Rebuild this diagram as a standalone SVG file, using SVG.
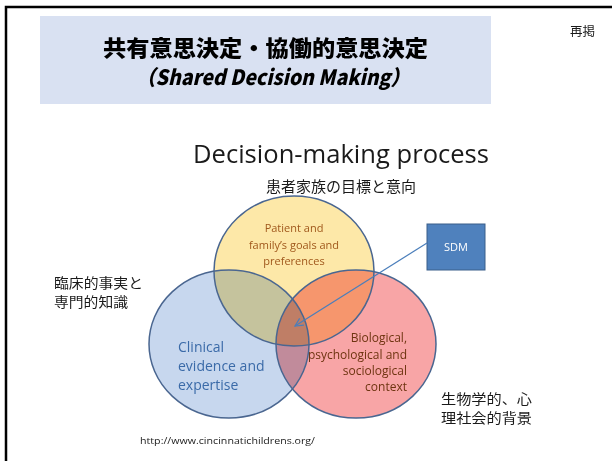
<svg xmlns="http://www.w3.org/2000/svg" width="612" height="461" viewBox="0 0 612 461">
<defs>
<style>
.jp{font-family:"Noto Sans CJK JP","Noto Sans",sans-serif;fill:#1a1a1a}
.en{font-family:"Open Sans","Liberation Sans",sans-serif}
.ring{fill:none;stroke:#4a6690;stroke-width:1.5}
.blend{mix-blend-mode:multiply}
</style>
<marker id="ah" markerWidth="10" markerHeight="10" refX="9" refY="5" orient="auto" markerUnits="userSpaceOnUse">
<path d="M1,1 L9,5 L1,9" fill="none" stroke="#4a7ebb" stroke-width="1.2"/>
</marker>
</defs>
<rect x="0" y="0" width="612" height="461" fill="#ffffff"/>
<path d="M6,461 V7 H612" fill="none" stroke="#000" stroke-width="2.5"/>
<rect x="40" y="16" width="451" height="88" fill="#d9e1f2"/>
<text class="jp" x="570" y="36" font-size="12.5">再掲</text>
<text x="103" y="56" font-family="'Noto Sans CJK JP',sans-serif" font-weight="900" font-size="22" textLength="325" lengthAdjust="spacingAndGlyphs" fill="#000">共有意思決定・協働的意思決定</text>
<text x="136" y="85" font-family="'Noto Sans CJK JP',sans-serif" font-weight="900" font-style="italic" font-size="21" textLength="274" lengthAdjust="spacingAndGlyphs" fill="#000">（Shared Decision Making）</text>
<text class="en" x="193" y="163" font-size="25" textLength="296" lengthAdjust="spacingAndGlyphs" fill="#1a1a1a">Decision-making process</text>
<text class="jp" x="341" y="192" font-size="15" text-anchor="middle">患者家族の目標と意向</text>
<g id="venn" style="isolation:isolate">
<g id="goals">
<ellipse class="blend" cx="294" cy="271" rx="80" ry="75" fill="#fde8a8"/>
</g>
<g id="clinical">
<ellipse class="blend" cx="229" cy="344" rx="80" ry="74" fill="#c7d7ee"/>
</g>
<g id="context">
<ellipse class="blend" cx="356" cy="344" rx="80" ry="74" fill="#f8a5a6"/>
</g>
<ellipse class="ring" cx="294" cy="271" rx="80" ry="75"/>
<ellipse class="ring" cx="229" cy="344" rx="80" ry="74"/>
<ellipse class="ring" cx="356" cy="344" rx="80" ry="74"/>
</g>
<g id="goals-label" class="en" font-size="11" fill="#a0581c" text-anchor="middle">
<text x="294" y="232">Patient and</text>
<text x="294" y="249">family’s goals and</text>
<text x="294" y="265">preferences</text>
</g>
<g id="clinical-label" class="en" font-size="14" fill="#3a6aa8">
<text x="178" y="352">Clinical</text>
<text x="178" y="371">evidence and</text>
<text x="178" y="390">expertise</text>
</g>
<g id="context-label" class="en" font-size="12" fill="#6e3410" text-anchor="end">
<text x="407" y="342">Biological,</text>
<text x="407" y="359">psychological and</text>
<text x="407" y="375">sociological</text>
<text x="407" y="391">context</text>
</g>
<g id="sdm">
<rect x="427" y="224" width="58" height="46" fill="#4f81bd" stroke="#3a5f8a" stroke-width="1"/>
<text class="en" x="456" y="251" font-size="11" fill="#ffffff" text-anchor="middle">SDM</text>
</g>
<g id="connectors">
<line x1="427" y1="243" x2="295" y2="326" stroke="#4a7ebb" stroke-width="1.2" marker-end="url(#ah)"/>
</g>
<g id="jp-labels" class="jp" font-size="13.5">
<text x="54" y="288" textLength="89" lengthAdjust="spacingAndGlyphs">臨床的事実と</text>
<text x="54" y="307" textLength="74" lengthAdjust="spacingAndGlyphs">専門的知識</text>
<text x="441" y="404" textLength="91" lengthAdjust="spacingAndGlyphs">生物学的、心</text>
<text x="441" y="423" textLength="91" lengthAdjust="spacingAndGlyphs">理社会的背景</text>
</g>
<text class="en" x="140" y="444" font-size="9.5" fill="#1a1a1a" textLength="175" lengthAdjust="spacingAndGlyphs">http://www.cincinnatichildrens.org/</text>
</svg>
